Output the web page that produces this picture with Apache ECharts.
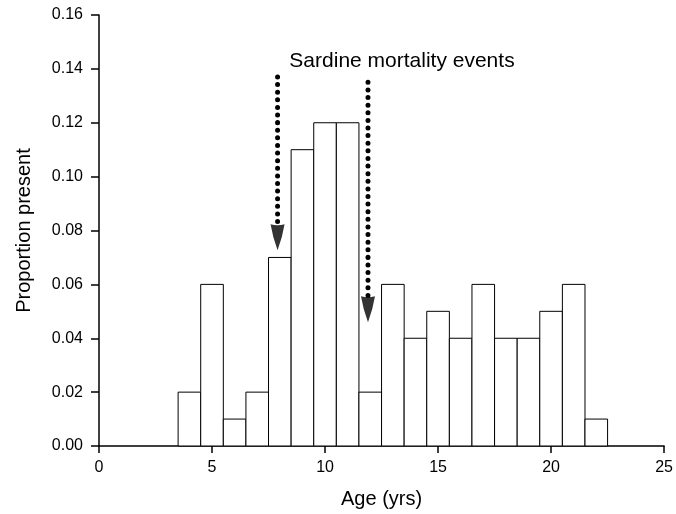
<!DOCTYPE html>
<html>
<head>
    <meta charset="UTF-8"/>
    <title>Sardine mortality events</title>
    <style>
        html, body { margin: 0; padding: 0; background: #fff; }
        #chart { width: 676px; height: 514px; }
    </style>
</head>
<body>
<div id="chart"></div>
<script src="https://cdn.jsdelivr.net/npm/echarts@6/dist/echarts.min.js"></script>
<script>
    // age classes (yrs) and proportion present
    const ages = [4, 5, 6, 7, 8, 9, 10, 11, 12, 13, 14, 15, 16, 17, 18, 19, 20, 21, 22];
    const proportions = [0.02, 0.06, 0.01, 0.02, 0.07, 0.11, 0.12, 0.12, 0.02, 0.06, 0.04, 0.05, 0.04, 0.06, 0.04, 0.04, 0.05, 0.06, 0.01];

    // mortality event arrows: x position, top of dotted shaft, base of head, tip
    const arrowX = [7.9, 11.9];
    const arrowTop = [0.137, 0.135];
    const arrowBase = [0.082, 0.0555];
    const arrowTip = [0.073, 0.046];

    const barData = ages.map((a, i) => [a, proportions[i]]);

    const arrowSeries = [];
    arrowX.forEach((x, i) => {
        arrowSeries.push({
            type: "line",
            data: [[x, arrowTop[i]], [x, arrowBase[i]]],
            symbol: "none",
            silent: true,
            lineStyle: {color: "#000", width: 5, type: [0.01, 7.6], cap: "round"},
            z: 5
        });
        arrowSeries.push({
            type: "scatter",
            data: [[x, (arrowBase[i] + arrowTip[i]) / 2]],
            symbol: "path://M0,0 Q5,1.5 10,0 Q8.5,10 5,20 Q1.5,10 0,0 Z",
            symbolSize: [14, 26],
            itemStyle: {color: "#000"},
            silent: true,
            z: 6
        });
    });

    const chart = echarts.init(document.getElementById("chart"));
    chart.setOption({
        animation: false,
        textStyle: {fontFamily: "Liberation Sans"},
        title: {
            text: "Sardine mortality events",
            left: 397,
            top: 46,
            textAlign: "center",
            textStyle: {fontSize: 21, fontWeight: "normal", color: "#000", fontFamily: "Liberation Sans"}
        },
        grid: {left: 99, right: 8, top: 15, bottom: 68},
        xAxis: {
            type: "value",
            min: 0,
            max: 25,
            interval: 5,
            name: "Age (yrs)",
            nameLocation: "middle",
            nameGap: 43,
            nameTextStyle: {fontSize: 20, color: "#000"},
            axisLine: {show: true, onZero: false, lineStyle: {color: "#000", width: 1.5}},
            axisTick: {show: true, length: 7, lineStyle: {color: "#000", width: 1.5}},
            axisLabel: {fontSize: 16, color: "#000", margin: 14},
            splitLine: {show: false}
        },
        yAxis: {
            type: "value",
            min: 0,
            max: 0.16,
            interval: 0.02,
            name: "Proportion present",
            nameLocation: "middle",
            nameGap: 65,
            nameTextStyle: {fontSize: 20, color: "#000"},
            axisLine: {show: true, lineStyle: {color: "#000", width: 1.5}},
            axisTick: {show: true, length: 8, lineStyle: {color: "#000", width: 1.5}},
            axisLabel: {
                fontSize: 16, color: "#000", margin: 16,
                formatter: v => v.toFixed(2)
            },
            splitLine: {show: false}
        },
        series: [{
            type: "custom",
            data: barData,
            silent: true,
            renderItem: function (params, api) {
                const x = api.value(0);
                const y = api.value(1);
                const p0 = api.coord([x - 0.5, y]);
                const p1 = api.coord([x + 0.5, 0]);
                return {
                    type: "rect",
                    shape: {x: p0[0], y: p0[1], width: p1[0] - p0[0], height: p1[1] - p0[1]},
                    style: {fill: "#fff", stroke: "#000", lineWidth: 1}
                };
            },
            z: 2
        }].concat(arrowSeries)
    });
</script>
</body>
</html>
